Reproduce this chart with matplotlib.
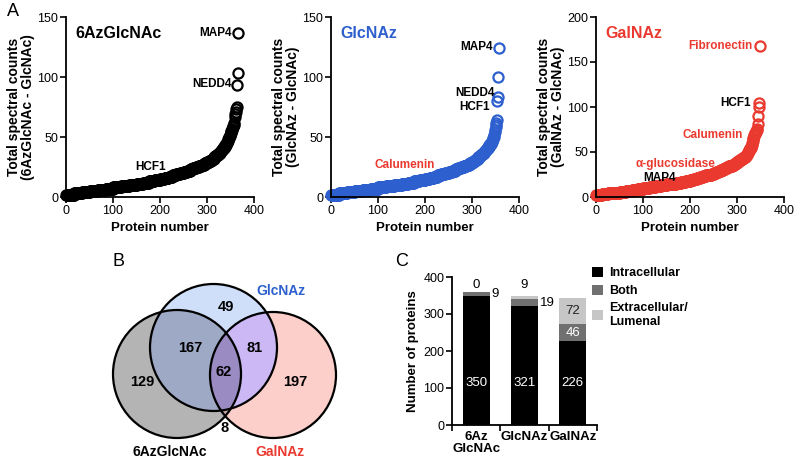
import numpy as np
import matplotlib.pyplot as plt
from matplotlib.patches import Circle
from matplotlib.colors import to_rgba

plt.rcParams['font.family'] = ['Liberation Sans', 'DejaVu Sans']

# ---- Panel A data: spectral count value -> number of proteins with that value ----
az_vals = [2, 3, 4, 5, 6, 7, 8, 9, 10, 11, 12, 13, 14, 15, 16, 17, 18, 19, 20, 21, 22, 23, 24,
           25, 26, 27, 28, 29, 30, 31, 32, 33, 34, 35, 36, 37, 38, 39, 40, 41, 42, 43,
           44, 45, 46, 47, 48, 49, 50, 51, 52, 53, 54, 55, 56, 57, 58,
           59, 60, 62, 67, 69, 71, 73, 75, 93, 103, 137]
az_counts = [17, 17, 16, 17, 17, 16, 17, 17, 16, 13, 13, 12, 12, 9, 9, 8, 8, 8, 8, 7, 7, 6, 6,
             6, 6, 6, 6, 4, 4, 3, 3, 3, 3, 3, 2, 3, 2, 2, 2, 2, 2, 2,
             1, 1, 1, 1, 1, 1, 1, 1, 1, 1, 1, 1, 1, 1, 1,
             1, 1, 1, 1, 1, 1, 1, 1, 1, 1, 1]

glcnaz_vals = [2, 3, 4, 5, 6, 7, 8, 9, 10, 11, 12, 13, 14, 15, 16, 17, 18, 19, 20, 21, 22, 23, 24,
               25, 26, 27, 28, 29, 30, 31, 32, 33, 34, 35, 36, 37, 38, 39, 40, 41, 42, 43, 44,
               45, 46, 47, 48, 49, 50, 52, 54, 56, 58, 60, 62, 64, 80, 83, 100, 124]
glcnaz_counts = [17, 17, 16, 17, 17, 16, 17, 17, 16, 13, 13, 12, 12, 9, 9, 8, 8, 8, 8, 7, 7, 6, 6,
                 6, 6, 6, 6, 3, 3, 3, 3, 3, 3, 2, 3, 3, 2, 2, 2, 2, 2, 2, 2,
                 1, 1, 1, 1, 1, 1, 1, 1, 1, 1, 1, 1, 1, 1, 1, 1, 1]

galnaz_vals = [2, 3, 4, 5, 6, 7, 8, 9, 10, 11, 12, 13, 14, 15, 16, 17, 18, 19, 20, 21, 22, 23, 24,
               25, 26, 27, 28, 29, 30, 31, 32, 33, 34, 35, 36, 37, 38, 39, 40, 41, 42, 43, 44, 45,
               46, 47, 48, 49, 50, 51, 52, 53, 54, 55, 56, 58, 60, 62, 64, 66, 68, 69, 70, 71,
               72, 73, 74, 76, 81, 90, 100, 104, 168]
galnaz_counts = [12, 13, 13, 12, 13, 13, 12, 12, 13, 13, 12, 12, 10, 10, 10, 10, 10, 7, 7, 7, 6, 6, 6,
                 6, 5, 5, 5, 5, 5, 4, 4, 4, 4, 4, 3, 3, 3, 3, 3, 3, 3, 3, 2, 2,
                 2, 1, 1, 1, 1, 1, 1, 1, 1, 1, 1, 1, 1, 1, 1, 1, 1, 1, 1, 1,
                 1, 1, 1, 1, 1, 1, 1, 1, 1]

# ---- Panel B: Venn region sizes ----
venn_labels = ['129', '49', '197', '167', '8', '81', '62']  # Az, Glc, Gal, Az&Glc, Az&Gal, Glc&Gal, all

# ---- Panel C: localisation ----
groups = ['6Az\nGlcNAc', 'GlcNAz', 'GalNAz']
intracellular = [350, 321, 226]
both = [9, 19, 46]
extracellular = [0, 9, 72]

BLACK = '#000000'
BLUE = '#2d5fce'
RED = '#ea3a30'

W, H = 795, 458
fig = plt.figure(figsize=(W / 100, H / 100), dpi=100)


def px_axes(l, t, r, b):
    return fig.add_axes([l / W, 1 - b / H, (r - l) / W, (b - t) / H])


def style(ax):
    for s in ['top', 'right']:
        ax.spines[s].set_visible(False)
    for s in ['left', 'bottom']:
        ax.spines[s].set_linewidth(1.3)
    ax.tick_params(direction='out', length=4, width=1.2, labelsize=9, pad=1.5)


panels = [
    (66, az_vals, az_counts, BLACK, '6AzGlcNAc', 150, '(6AzGlcNAc - GlcNAc)'),
    (331, glcnaz_vals, glcnaz_counts, BLUE, 'GlcNAz', 150, '(GlcNAz - GlcNAc)'),
    (596, galnaz_vals, galnaz_counts, RED, 'GalNAz', 200, '(GalNAz - GlcNAc)'),
]
axes_a = []
for left, vals, counts, col, name, ymax, sub in panels:
    ax = px_axes(left, 17, left + 188, 197)
    y = np.repeat(vals, counts)
    x = np.arange(1, len(y) + 1)
    ax.plot(x, y, 'o', mfc='none', mec=col, ms=7.3, mew=1.6, clip_on=False)
    ax.set_xlim(0, 400)
    ax.set_ylim(0, ymax)
    ax.set_xticks([0, 100, 200, 300, 400])
    ax.set_yticks(np.arange(0, ymax + 1, 50))
    style(ax)
    ax.set_xlabel('Protein number', fontsize=9.5, fontweight='bold', labelpad=4)
    ax.set_ylabel('Total spectral counts\n' + sub, fontsize=10, fontweight='bold', labelpad=1.5,
                  linespacing=1.0)
    ax.text(0.05, 0.91, name, transform=ax.transAxes, color=col, fontsize=11.5,
            fontweight='bold', va='center', ha='left')
    axes_a.append(ax)

ann = dict(fontsize=8.5, fontweight='bold', va='center')
a1, a2, a3 = axes_a
a1.text(353, 137, 'MAP4', ha='right', color=BLACK, **ann)
a1.text(353, 94, 'NEDD4', ha='right', color=BLACK, **ann)
a1.text(179, 25, 'HCF1', ha='center', color=BLACK, **ann)

a2.text(345, 125, 'MAP4', ha='right', color=BLACK, **ann)
a2.text(349, 87, 'NEDD4', ha='right', color=BLACK, **ann)
a2.text(338, 75, 'HCF1', ha='right', color=BLACK, **ann)
a2.text(157, 27, 'Calumenin', ha='center', color=RED, **ann)

a3.text(334, 168, 'Fibronectin', ha='right', color=RED, **ann)
a3.text(330, 104, 'HCF1', ha='right', color=BLACK, **ann)
a3.text(313, 69, 'Calumenin', ha='right', color=RED, **ann)
a3.text(168, 37, 'α-glucosidase', ha='center', color=RED, **ann)
a3.text(136, 21, 'MAP4', ha='center', color=BLACK, **ann)

# panel letters
fig.text(7 / W, 1 - 12 / H, 'A', fontsize=13, va='center', ha='left')
fig.text(112 / W, 1 - 262 / H, 'B', fontsize=13, va='center', ha='left')
fig.text(395 / W, 1 - 262 / H, 'C', fontsize=13, va='center', ha='left')

# ---- Panel B: Venn ----
vx0, vy0, vx1, vy1 = 100, 270, 350, 458
axv = px_axes(vx0, vy0, vx1, vy1)
axv.set_xlim(vx0, vx1)
axv.set_ylim(vy1, vy0)
axv.axis('off')
circles = {'az': (177, 374, 64), 'glc': (213.5, 347.5, 63.5), 'gal': (273, 375, 63)}
gx, gy = np.meshgrid(np.arange(vx0, vx1, 0.5) + 0.25, np.arange(vy0, vy1, 0.5) + 0.25)
inside = {k: (gx - c[0]) ** 2 + (gy - c[1]) ** 2 <= c[2] ** 2 for k, c in circles.items()}
img = np.ones(gx.shape + (4,))
img[..., 3] = 0
region_cols = [
    ((1, 0, 0), '#b5b5b5'), ((0, 1, 0), '#d0dffa'), ((0, 0, 1), '#fdcfca'),
    ((1, 1, 0), '#9eaac6'), ((1, 0, 1), '#c6a9a8'), ((0, 1, 1), '#cbb8f6'),
    ((1, 1, 1), '#9a8bc4'),
]
for key, c in region_cols:
    m = (inside['az'] == bool(key[0])) & (inside['glc'] == bool(key[1])) & (inside['gal'] == bool(key[2]))
    img[m] = to_rgba(c)
axv.imshow(img, extent=(vx0, vx1, vy1, vy0), interpolation='bilinear', zorder=1)
for k, (cx, cy, r) in circles.items():
    axv.add_patch(Circle((cx, cy), r, fill=False, ec='black', lw=1.6, zorder=2))
venn_pos = [(142, 382), (226, 307), (295, 382), (190, 348), (225, 428), (255, 348), (224, 372)]
for lab, (px, py) in zip(venn_labels, venn_pos):
    axv.text(px, py, lab, ha='center', va='center', fontsize=10.5, fontweight='bold', zorder=3)
axv.text(281, 291, 'GlcNAz', color=BLUE, ha='center', va='center', fontsize=10, fontweight='bold')
axv.text(170, 452, '6AzGlcNAc', color=BLACK, ha='center', va='center', fontsize=10, fontweight='bold')
axv.text(280, 452, 'GalNAz', color=RED, ha='center', va='center', fontsize=10, fontweight='bold')

# ---- Panel C: stacked bars ----
axc = px_axes(452, 277, 597, 425)
xs = np.arange(len(groups))
bw = 0.56
c_int, c_both, c_ext = '#000000', '#707070', '#c6c6c6'
bottom2 = np.array(intracellular)
bottom3 = bottom2 + np.array(both)
axc.bar(xs, intracellular, bw, color=c_int, label='Intracellular')
axc.bar(xs, both, bw, bottom=bottom2, color=c_both, label='Both')
axc.bar(xs, extracellular, bw, bottom=bottom3, color=c_ext, label='Extracellular/\nLumenal')
axc.set_xlim(-0.5, 2.5)
axc.set_ylim(0, 400)
axc.set_yticks([0, 100, 200, 300, 400])
axc.set_xticks([-0.5, 0.5, 1.5, 2.5])
axc.set_xticklabels([])
axc.set_xticks(xs, minor=True)
axc.set_xticklabels(groups, minor=True, fontsize=9.5, fontweight='bold', linespacing=1.0)
style(axc)
axc.tick_params(axis='x', which='minor', length=0, pad=4)
axc.set_ylabel('Number of proteins', fontsize=9.5, fontweight='bold', labelpad=3)

for i in xs:
    axc.text(i, 113, str(intracellular[i]), color='white', ha='center', va='center', fontsize=9.5)
    if i < 2:
        axc.text(i + bw / 2 + 0.04, bottom2[i] + both[i] / 2, str(both[i]), ha='left',
                 va='center', fontsize=9.5)
        axc.text(i, 378, str(extracellular[i]), ha='center', va='center', fontsize=9.5)
    else:
        axc.text(i, bottom2[i] + both[i] / 2, str(both[i]), color='white', ha='center',
                 va='center', fontsize=9.5)
        axc.text(i, bottom3[i] + extracellular[i] / 2, str(extracellular[i]), color='#222222',
                 ha='center', va='center', fontsize=9.5)

axc.legend(loc='upper left', bbox_to_anchor=(592 / W, 1 - 267 / H), bbox_transform=fig.transFigure,
           frameon=False, handlelength=0.9, handleheight=0.9, handletextpad=0.5,
           labelspacing=0.4, prop={'weight': 'bold', 'size': 9}, borderpad=0, borderaxespad=0)

fig.savefig('out.png', dpi=100)
